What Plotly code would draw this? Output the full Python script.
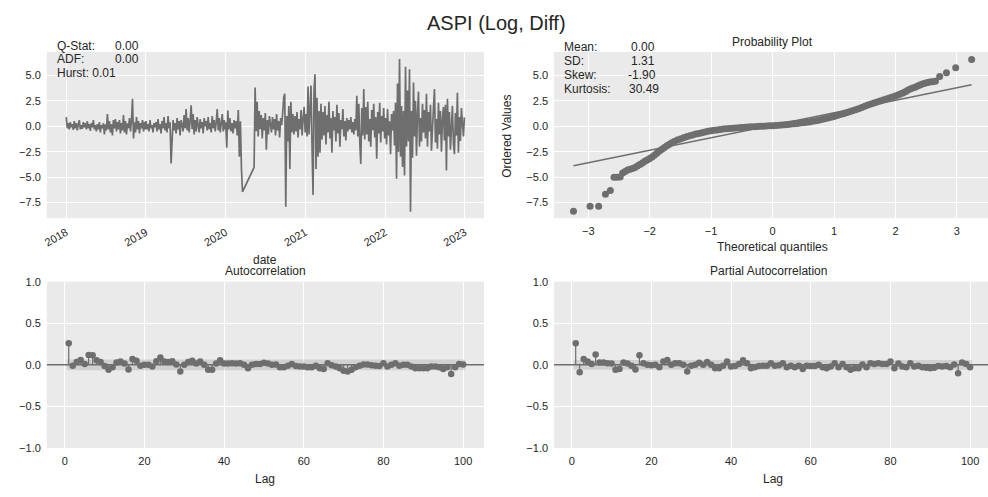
import numpy as np
import pandas as pd
import plotly.graph_objects as go

# ---------------- DATA ----------------
title_text = "ASPI (Log, Diff)"

# time series segments (start, end) -> values (log-diff, %), closure gap between 2020a and 2020b
seg_2018 = ("2018-01-02", "2018-12-31")
vals_2018 = [0.9, -0.2, 0.3, -0.3, 0.4, -0.1, 0.2, -0.35, 0.5, -0.2,
             0.3, -0.4, 0.2, 0.6, -0.3, 0.1, -0.25, 0.4, -0.1, 0.3,
             -0.3, 0.5, -0.2, 0.2, -0.45, 0.3, -0.1, 0.6, -0.3, 0.1,
             -0.5, 0.2, -0.3, 0.4, -0.6, 0.1, -0.2, 0.3, -0.8, 0.2,
             -0.4, 1.2, -0.3, 0.5, -0.6, 0.2, -0.9, 0.6, -0.2, 0.7,
             -0.5, 0.4, -0.3, 0.6, -0.7, 0.3, -0.4, 1.1, -0.6, 0.5,
             -0.8, 0.3, -0.2, 0.8, -0.5, 0.6, 2.7, -1.2, 0.4, -0.6,
             0.9, -0.3, 0.5, -0.7, 0.3, -0.2, 0.6, -0.5, 0.4, -0.3]
seg_2019 = ("2019-01-02", "2019-12-31")
vals_2019 = [0.5, -0.3, 0.2, -0.5, 0.6, -0.2, 0.1, -0.6, 0.3, -0.1,
             0.4, -0.5, 0.7, -0.3, 0.2, -0.7, 0.5, -0.2, 0.9, -0.4,
             0.3, -0.6, 1.0, -0.2, 0.4, -3.65, -1.5, 0.6, -0.4, 0.3,
             -0.7, 0.8, -0.3, 0.5, -0.9, 0.6, 0.1, -0.5, 1.1, -0.2,
             1.7, -0.4, 0.8, -0.6, 0.5, 2.05, -0.3, 1.2, -0.8, 0.6,
             -0.5, 0.9, 0.1, -0.6, 0.7, -0.2, 0.4, -0.7, 0.8, 0.0,
             0.5, -0.4, 0.9, -0.3, 0.3, -0.6, 1.0, -0.2, 0.6, -0.5,
             0.4, 1.7, -0.4, 0.8, -0.6, 0.3, 1.2, -0.5, 0.6, -0.3]
seg_2020a = ("2020-01-02", "2020-03-19")
vals_2020a = [0.4, -2.1, 1.55, -0.3, 0.8, -0.5, 0.3, -0.7, 0.6, -0.2,
              0.5, -0.9, 1.6, -3.0, 0.5, -4.2, -6.45]
seg_2020b = ("2020-05-11", "2020-12-31")
vals_2020b = [-4.05, 3.8, -0.5, 2.4, -1.0, 1.5, -0.3, 1.1, -1.2, 0.8,
              -0.4, 1.3, -2.3, 0.6, -0.8, 1.0, 0.2, -0.6, 0.9, -0.3,
              0.7, -0.9, 1.2, -0.4, 0.5, -1.1, 0.8, 0.1,
              1.3, 2.85, 3.2, -7.9, 1.0, -1.5, 2.0, -4.2, 2.4, -0.6, 1.2, -0.8,
              1.0, -0.5, 1.4, -1.1, 0.7, -0.3, 1.6, -0.9, 0.8, 1.9, -0.6]
seg_2021 = ("2021-01-04", "2021-12-30")
vals_2021 = [1.2, -1.0, 3.9, -0.8, 2.6, 4.0, -2.0, -6.76, 3.5, 5.1,
             -4.2, 2.8, -3.0, 1.5, -2.6, 2.2, -1.3, 1.4, -0.9, 2.0,
             -1.8, 1.1, -0.6, 2.4, -1.2, 0.8, -2.6, 1.5, -0.4, 0.9,
             -1.5, 2.1, -0.7, 1.3, -2.0, 0.6, -0.3, 1.7, -1.0, 0.5,
             -1.4, 0.8, -0.5, 0.6, -0.3, 0.9, -0.6, 0.4, -0.8, 0.7,
             -0.4, 3.0, -1.0, 2.2, -1.6, -3.7, 1.8, -0.9, 3.65, -1.3,
             1.9, -0.8, 2.4, -1.5, 0.7, -2.0, 1.6, -0.4, 2.2, -1.1,
             0.9, -3.2, 1.4, -0.7, 2.3, -1.6, 1.0, -0.5, 1.8, -1.2]
seg_2022 = ("2022-01-03", "2022-12-30")
vals_2022 = [0.8, -1.8, 1.7, -0.9, 0.5, -2.75, 1.2, -0.4, 1.5, -1.9,
             2.3, -5.15, 4.2, -2.5, 6.6, -3.0, 2.0, -4.0, 1.5, -4.85,
             5.85, -2.0, 3.5, -1.5, 5.6, -8.4,
             1.5, -3.1, 4.3, -1.0, 2.5, -2.9, 1.2, 3.4, -2.0, 0.8, -1.5, 2.2, -0.6, 1.6,
             -1.2, 3.2, -2.0, 1.4, -0.5, 2.1, -2.4, 0.9, 1.8, 3.65,
             -1.6, 0.7, -2.2, 2.3, -0.8, 1.5, -2.5, 0.6, 1.9, -1.4,
             2.1, -4.35, 2.7, -1.0, 1.4, -2.3, 0.8, 2.0, -1.7, -2.75,
             1.3, -0.9, 3.3, -2.6, 0.9, -1.45, 1.8, -0.4, -1.0, 0.87]
year_ticks = ["2018", "2019", "2020", "2021", "2022", "2023"]

stats_left = [("Q-Stat:", "0.00"), ("ADF:", "0.00")]
hurst_text = "Hurst: 0.01"
stats_right = [("Mean:", "0.00"), ("SD:", "1.31"), ("Skew:", "-1.90"), ("Kurtosis:", "30.49")]

# probability plot: theoretical quantiles vs ordered values
pp_q = [-3.24, -2.97, -2.83, -2.72, -2.64, -2.58, -2.53, -2.48, -2.44, -2.40,
        -2.36, -2.32, -2.28, -2.24, -2.20, -2.16, -2.12, -2.08, -2.04, -2.00,
        -1.96, -1.92, -1.88, -1.84, -1.80, -1.76, -1.72, -1.68, -1.64, -1.60,
        -1.55, -1.50, -1.45, -1.40, -1.35, -1.30, -1.25, -1.20, -1.15, -1.10,
        -1.05, -1.00, -0.95, -0.90, -0.85, -0.80, -0.75, -0.70, -0.65, -0.60,
        -0.55, -0.50, -0.45, -0.40, -0.35, -0.30, -0.25, -0.20, -0.15, -0.10,
        -0.05, 0.00, 0.05, 0.10, 0.15, 0.20, 0.25, 0.30, 0.35, 0.40,
        0.45, 0.50, 0.55, 0.60, 0.65, 0.70, 0.75, 0.80, 0.85, 0.90,
        0.95, 1.00, 1.05, 1.10, 1.15, 1.20, 1.25, 1.30, 1.35, 1.40,
        1.45, 1.50, 1.55, 1.60, 1.65, 1.70, 1.75, 1.80, 1.85, 1.90,
        1.95, 2.00, 2.04, 2.08, 2.12, 2.16, 2.20, 2.24, 2.28, 2.32,
        2.36, 2.40, 2.44, 2.48, 2.52, 2.56, 2.60, 2.65, 2.72, 2.83,
        2.98, 3.24]
pp_v = [-8.34, -7.87, -7.87, -6.69, -6.31, -5.02, -5.00, -4.98, -4.60, -4.45,
        -4.30, -4.22, -4.15, -4.05, -3.90, -3.75, -3.60, -3.45, -3.32, -3.18,
        -3.02, -2.82, -2.62, -2.42, -2.25, -2.08, -1.92, -1.78, -1.62, -1.50,
        -1.36, -1.25, -1.12, -1.02, -0.93, -0.85, -0.77, -0.70, -0.63, -0.56,
        -0.50, -0.45, -0.40, -0.36, -0.32, -0.28, -0.25, -0.22, -0.19, -0.16,
        -0.14, -0.12, -0.10, -0.08, -0.06, -0.04, -0.02, 0.00, 0.01, 0.03,
        0.05, 0.06, 0.08, 0.10, 0.12, 0.15, 0.18, 0.21, 0.24, 0.28,
        0.31, 0.35, 0.39, 0.43, 0.48, 0.53, 0.59, 0.66, 0.73, 0.81,
        0.89, 0.97, 1.06, 1.15, 1.24, 1.33, 1.42, 1.52, 1.62, 1.73,
        1.84, 1.96, 2.08, 2.18, 2.28, 2.38, 2.48, 2.58, 2.68, 2.78,
        2.88, 2.98, 3.08, 3.18, 3.28, 3.40, 3.55, 3.66, 3.75, 3.84,
        3.95, 4.05, 4.15, 4.22, 4.30, 4.35, 4.38, 4.42, 4.90, 5.25,
        5.75, 6.55]
fit_slope = 1.228
fit_intercept = 0.09

lags = list(range(1, 101))
acf_vals = [0.26, -0.01, 0.035, 0.06, 0.01, 0.12, 0.115, 0.055, 0.035, -0.015,
            -0.06, -0.03, 0.03, 0.04, 0.015, -0.055, 0.07, 0.05, -0.01, 0.0,
            0.0, -0.02, 0.045, 0.09, 0.04, 0.035, 0.045, 0.005, -0.08, 0.0,
            0.035, 0.05, 0.015, 0.04, 0.0, -0.06, -0.06, 0.015, 0.055, 0.015,
            0.015, 0.02, 0.015, 0.02, 0.0, -0.04, 0.0, 0.01, 0.01, 0.025,
            0.015, 0.0, 0.005, -0.03, -0.03, -0.01, 0.01, -0.015, -0.02, -0.02,
            -0.03, -0.03, -0.01, -0.04, -0.05, 0.02, -0.005, -0.02, -0.04, -0.07,
            -0.08, -0.06, -0.03, -0.01, 0.005, 0.005, -0.005, -0.01, -0.015, 0.02,
            -0.02, 0.0, 0.02, -0.01, 0.0, 0.0, -0.02, -0.04, -0.04, -0.04,
            -0.04, -0.02, -0.02, -0.03, -0.05, -0.03, -0.11, -0.03, 0.01, 0.005]
pacf_vals = [0.26, -0.09, 0.07, 0.04, 0.01, 0.125, 0.03, 0.03, 0.02, 0.015,
             -0.06, -0.05, 0.03, 0.015, -0.01, -0.055, 0.115, 0.02, 0.0, -0.005,
             0.0, -0.03, 0.04, 0.06, 0.0, 0.02, 0.02, 0.0, -0.08, -0.01,
             0.0, 0.025, 0.0, 0.035, 0.0, -0.04, -0.04, -0.01, 0.04, -0.02,
             -0.015, 0.01, 0.055, 0.02, -0.04, -0.03, -0.015, -0.01, -0.01, 0.02,
             -0.01, -0.005, 0.02, -0.03, -0.01, -0.03, -0.01, -0.05, -0.01, -0.015,
             -0.015, 0.0, -0.03, -0.04, -0.02, 0.02, -0.03, 0.01, -0.03, -0.06,
             -0.04, -0.04, 0.005, -0.03, 0.02, 0.01, 0.02, 0.01, 0.01, 0.04,
             -0.04, 0.015, -0.02, -0.03, 0.02, -0.02, -0.01, -0.03, -0.035, -0.04,
             -0.035, -0.015, -0.02, -0.015, -0.03, 0.005, -0.1, 0.03, 0.01, -0.03]
acf_conf = 0.064
pacf_conf = 0.058

# ---------------- STYLE ----------------
W, H = 988, 497
BG = "#EAEAEA"
GRAY = "#6E6E6E"
TXT = "#262626"
FONT = "Liberation Sans, Arial, sans-serif"

def px_x(p):
    return p / W

def px_y(p):
    return 1 - p / H

segments = [(seg_2018, vals_2018), (seg_2019, vals_2019), (seg_2020a, vals_2020a),
            (seg_2020b, vals_2020b), (seg_2021, vals_2021), (seg_2022, vals_2022)]
ts_x, ts_y = [], []
for (s, e), v in segments:
    d = pd.date_range(s, e, periods=len(v))
    ts_x.extend(list(d))
    ts_y.extend(v)

fig = go.Figure()

# time series
fig.add_trace(go.Scatter(x=ts_x, y=ts_y, mode="lines", line=dict(color=GRAY, width=1.7),
                         xaxis="x", yaxis="y", showlegend=False, hoverinfo="skip"))

# probability plot
fig.add_trace(go.Scatter(x=pp_q, y=pp_v, mode="markers", marker=dict(color=GRAY, size=7),
                         xaxis="x2", yaxis="y2", showlegend=False))
fx = np.array([min(pp_q), max(pp_q)])
fig.add_trace(go.Scatter(x=fx, y=fit_slope * fx + fit_intercept, mode="lines",
                         line=dict(color=GRAY, width=1.5), xaxis="x2", yaxis="y2", showlegend=False))

def corr_traces(vals, conf, xa, ya):
    lo, hi = lags[0] - 0.5, lags[-1] + 0.5
    fig.add_trace(go.Scatter(x=[lo, hi, hi, lo, lo], y=[-conf, -conf, conf, conf, -conf],
                             fill="toself", fillcolor="rgba(110,110,110,0.2)", line=dict(width=0),
                             mode="lines", xaxis=xa, yaxis=ya, showlegend=False, hoverinfo="skip"))
    fig.add_trace(go.Scatter(x=[-10, 120], y=[0, 0], mode="lines", line=dict(color=GRAY, width=1.5),
                             xaxis=xa, yaxis=ya, showlegend=False, hoverinfo="skip"))
    sx, sy = [], []
    for l, v in zip(lags, vals):
        sx += [l, l, None]
        sy += [0, v, None]
    fig.add_trace(go.Scatter(x=sx, y=sy, mode="lines", line=dict(color=GRAY, width=1.2),
                             xaxis=xa, yaxis=ya, showlegend=False, hoverinfo="skip"))
    fig.add_trace(go.Scatter(x=lags, y=vals, mode="markers", marker=dict(color=GRAY, size=6.5),
                             xaxis=xa, yaxis=ya, showlegend=False))

corr_traces(acf_vals, acf_conf, "x3", "y3")
corr_traces(pacf_vals, pacf_conf, "x4", "y4")

xl = [px_x(43), px_x(482)]
xr = [px_x(552.3), 1.0]
yt = [px_y(217.5), px_y(47)]
yb = [px_y(453), px_y(282.5)]

ax_common = dict(showgrid=True, gridcolor="white", gridwidth=1.3, zeroline=False, showline=False,
                 ticks="", tickfont=dict(size=11, color=TXT, family=FONT), ticklabelstandoff=5)

year_vals = [pd.Timestamp(y + "-01-01") for y in year_ticks]
fig.update_layout(
    width=W, height=H, margin=dict(l=0, r=0, t=0, b=0),
    paper_bgcolor="white", plot_bgcolor=BG,
    font=dict(family=FONT, color=TXT),
    xaxis=dict(domain=xl, anchor="y", type="date", range=["2017-10-05", "2023-03-30"],
               tickvals=year_vals, ticktext=year_ticks, tickangle=-30, **ax_common),
    yaxis=dict(domain=yt, anchor="x", range=[-9.04, 7.31], tickvals=[-7.5, -5, -2.5, 0, 2.5, 5],
               tickformat=".1f", **ax_common),
    xaxis2=dict(domain=xr, anchor="y2", range=[-3.556, 3.506], tickvals=[-3, -2, -1, 0, 1, 2, 3], **ax_common),
    yaxis2=dict(domain=yt, anchor="x2", range=[-9.04, 7.31], tickvals=[-7.5, -5, -2.5, 0, 2.5, 5],
                tickformat=".1f", **ax_common),
    xaxis3=dict(domain=xl, anchor="y3", range=[-4.5, 105.25], tickvals=[0, 20, 40, 60, 80, 100], **ax_common),
    yaxis3=dict(domain=yb, anchor="x3", range=[-1.0, 1.0], tickvals=[-1, -0.5, 0, 0.5, 1],
                tickformat=".1f", **ax_common),
    xaxis4=dict(domain=xr, anchor="y4", range=[-4.43, 104.5], tickvals=[0, 20, 40, 60, 80, 100], **ax_common),
    yaxis4=dict(domain=yb, anchor="x4", range=[-1.0, 1.0], tickvals=[-1, -0.5, 0, 0.5, 1],
                tickformat=".1f", **ax_common),
)

ann = []
def text(x, y, s, size=12, xanchor="center", angle=0):
    ann.append(dict(x=px_x(x), y=px_y(y), xref="paper", yref="paper", text=s, showarrow=False,
                    xanchor=xanchor, yanchor="middle", textangle=angle,
                    font=dict(size=size, color=TXT, family=FONT)))

text(494, 17, title_text, size=20)
# left stats
for i, (lab, val) in enumerate(stats_left):
    yy = 40.7 + i * 13.7
    text(51.5, yy, lab, xanchor="left")
    text(137.5, yy, val, xanchor="right")
text(51.5, 68.2, hurst_text, xanchor="left")
# right stats
right_edges = [656, 656, 657, 660]
for i, (lab, val) in enumerate(stats_right):
    yy = 42.5 + i * 14.3
    text(560.5, yy, lab, xanchor="left")
    text(right_edges[i], yy, val, xanchor="right")

text(771.7, 37, "Probability Plot")
text(771.7, 247, "Theoretical quantiles")
text(505, 133, "Ordered Values", angle=-90)
text(262, 260.5, "date")
text(262.3, 271.5, "Autocorrelation")
text(767.3, 271.5, "Partial Autocorrelation")
text(262, 485, "Lag")
text(771.7, 485, "Lag")

fig.update_layout(annotations=ann)
fig.write_html("out.html")
